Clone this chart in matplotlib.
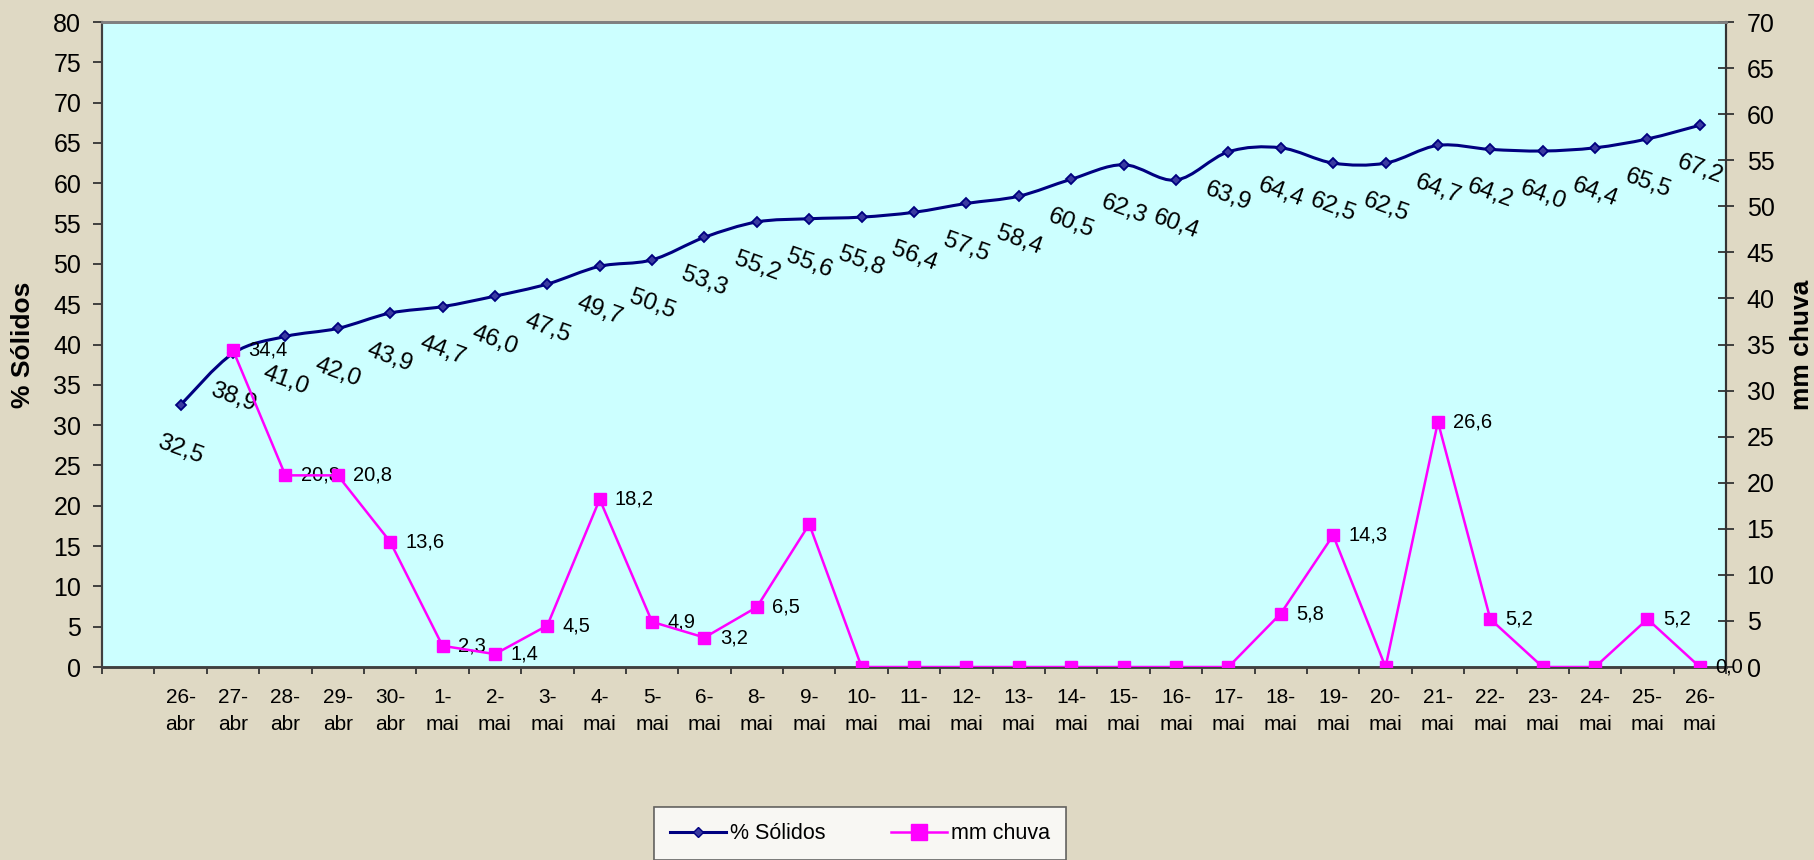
import matplotlib

matplotlib.use("Agg")
import matplotlib.pyplot as plt
from matplotlib.lines import Line2D
from matplotlib.patches import PathPatch
from matplotlib.path import Path
import numpy as np

plt.rcParams["font.family"] = ["Liberation Sans", "DejaVu Sans"]

# --- data ---------------------------------------------------------------
dates = ["", "26-\nabr", "27-\nabr", "28-\nabr", "29-\nabr", "30-\nabr",
         "1-\nmai", "2-\nmai", "3-\nmai", "4-\nmai", "5-\nmai", "6-\nmai",
         "8-\nmai", "9-\nmai", "10-\nmai", "11-\nmai", "12-\nmai", "13-\nmai",
         "14-\nmai", "15-\nmai", "16-\nmai", "17-\nmai", "18-\nmai", "19-\nmai",
         "20-\nmai", "21-\nmai", "22-\nmai", "23-\nmai", "24-\nmai", "25-\nmai",
         "26-\nmai"]

# % Sólidos from 26-abr to 26-mai
solidos = [32.5, 38.9, 41.0, 42.0, 43.9, 44.7, 46.0, 47.5, 49.7, 50.5,
           53.3, 55.2, 55.6, 55.8, 56.4, 57.5, 58.4, 60.5, 62.3, 60.4,
           63.9, 64.4, 62.5, 62.5, 64.7, 64.2, 64.0, 64.4, 65.5, 67.2]

# mm chuva from 27-abr to 26-mai
chuva = [34.4, 20.8, 20.8, 13.6, 2.3, 1.4, 4.5, 18.2, 4.9, 3.2,
         6.5, 15.5, 0, 0, 0, 0, 0, 0, 0, 0,
         5.8, 14.3, 0, 26.6, 5.2, 0, 0, 5.2, 0]
chuva_labels = ["34,4", "20,8", "20,8", "13,6", "2,3", "1,4", "4,5", "18,2", "4,9", "3,2",
                "6,5", "", "", "", "", "", "", "", "", "",
                "5,8", "14,3", "", "26,6", "5,2", "", "", "5,2", "0,0"]

left_ticks = list(range(0, 81, 5))
right_ticks = list(range(0, 71, 5))

NAVY = "#000080"
MAGENTA = "#FF00FF"
BG = "#DFD9C4"
PLOT_BG = "#CCFFFF"


def smooth_path(xs, ys):
    """Excel-like smoothed line as cubic Bezier segments through the points."""
    pts = np.column_stack([xs, ys]).astype(float)
    n = len(pts)
    verts = [pts[0]]
    codes = [Path.MOVETO]
    for i in range(n - 1):
        p0 = pts[i - 1] if i > 0 else pts[i]
        p1, p2 = pts[i], pts[i + 1]
        p3 = pts[i + 2] if i + 2 < n else pts[i + 1]
        verts += [p1 + (p2 - p0) / 6, p2 - (p3 - p1) / 6, p2]
        codes += [Path.CURVE4] * 3
    return Path(verts, codes)


fig = plt.figure(figsize=(18.15, 8.6), dpi=100, facecolor=BG)
ax = fig.add_axes([0.0562, 0.2244, 0.8948, 0.75])
ax.set_facecolor(PLOT_BG)
ax2 = ax.twinx()

x_sol = np.arange(1, len(solidos) + 1)
x_chu = np.arange(2, len(chuva) + 2)

# % Sólidos (left axis), smoothed
ax.add_patch(PathPatch(smooth_path(x_sol, solidos), fill=False, edgecolor=NAVY,
                       lw=2.2, zorder=3))
ax.plot(x_sol, solidos, ls="none", marker="D", ms=5.5, mfc="#3a3aa0", mec=NAVY,
        mew=1.3, zorder=4)
for x, v in zip(x_sol, solidos):
    ax.annotate(f"{v:.1f}".replace(".", ","), (x, v), xytext=(0, -32),
                textcoords="offset points", ha="center", va="center",
                rotation=-20, fontsize=17.5, color="black", zorder=5)

# mm chuva (right axis)
ax2.plot(x_chu, chuva, color=MAGENTA, lw=1.8, marker="s", ms=9,
         mfc=MAGENTA, mec=MAGENTA, zorder=4)
for x, v, lab in zip(x_chu, chuva, chuva_labels):
    if lab:
        ax2.annotate(lab, (x, v), xytext=(11, 0), textcoords="offset points",
                     ha="left", va="center", fontsize=14.5, color="black")

# axes
ax.set_xlim(-0.5, len(dates) - 0.5)
ax.set_ylim(0, 80)
ax2.set_ylim(0, 70)
ax.set_yticks(left_ticks)
ax2.set_yticks(right_ticks)
ax.set_xticks(np.arange(-0.5, len(dates)), labels=[])
ax.set_xticks(np.arange(len(dates)), labels=dates, minor=True)
for t in ax.get_xticklabels(minor=True):
    t.set_linespacing(1.55)
ax.tick_params(axis="x", which="major", direction="out", length=5, width=1.3,
               color="#333333")
ax.tick_params(axis="x", which="minor", length=0, pad=15, labelsize=15)
ax.tick_params(axis="y", direction="out", length=6.5, width=1.3, pad=8.5,
               labelsize=18, color="#333333")
ax2.tick_params(axis="y", direction="inout", length=11.5, width=1.3, pad=9,
                labelsize=18, color="#333333")

for a in (ax, ax2):
    a.spines["top"].set_color("#808080")
    a.spines["top"].set_linewidth(2)
    a.spines["left"].set_color("#404040")
    a.spines["left"].set_linewidth(1.5)
    a.spines["bottom"].set_color("#404040")
    a.spines["bottom"].set_linewidth(1.8)
    a.spines["right"].set_color("#333333")
    a.spines["right"].set_linewidth(1.5)

fig.text(23 / 1815, 0.5 * (0.2244 + 0.9744), "% Sólidos", rotation=90,
         ha="center", va="center", fontsize=19, fontweight="bold")
fig.text(1802 / 1815, 0.5 * (0.2244 + 0.9744), "mm chuva", rotation=90,
         ha="center", va="center", fontsize=19, fontweight="bold")

# legend
handles = [
    Line2D([], [], color=NAVY, lw=2.2, marker="D", ms=5.5, mfc="#3a3aa0", mec=NAVY),
    Line2D([], [], color=MAGENTA, lw=1.8, marker="s", ms=11, mfc=MAGENTA, mec=MAGENTA),
]
leg = fig.legend(handles, ["% Sólidos", "mm chuva"], loc="upper center",
                 bbox_to_anchor=(860 / 1815, 1 - 807 / 860), ncol=2,
                 fontsize=15.5, frameon=True, fancybox=False, borderpad=0.75,
                 handlelength=2.6, handletextpad=0.2, columnspacing=3.0,
                 borderaxespad=0)
leg.get_frame().set_facecolor("white")
leg.get_frame().set_edgecolor("#404040")
leg.get_frame().set_linewidth(1.2)

fig.savefig("out.png", dpi=100, facecolor=BG)
